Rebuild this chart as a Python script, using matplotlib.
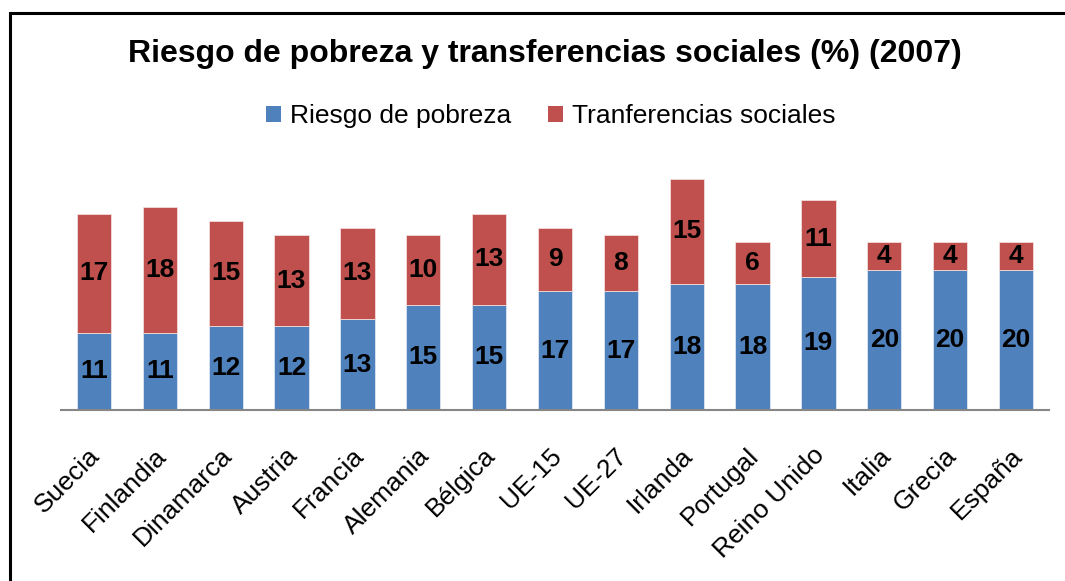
import matplotlib
matplotlib.use("Agg")
import matplotlib.pyplot as plt
from matplotlib.patches import Rectangle, Patch
from matplotlib.transforms import ScaledTranslation
import numpy as np

categories = ["Suecia", "Finlandia", "Dinamarca", "Austria", "Francia", "Alemania",
              "Bélgica", "UE-15", "UE-27", "Irlanda", "Portugal", "Reino Unido",
              "Italia", "Grecia", "España"]
riesgo = [11, 11, 12, 12, 13, 15, 15, 17, 17, 18, 18, 19, 20, 20, 20]
transferencias = [17, 18, 15, 13, 13, 10, 13, 9, 8, 15, 6, 11, 4, 4, 4]

blue = "#4F81BD"
red = "#C0504D"

plt.rcParams['font.family'] = ['Liberation Sans', 'DejaVu Sans']

W, H = 1065, 581
fig = plt.figure(figsize=(W / 100, H / 100), dpi=100)

# outer chart frame
fig.patches.append(Rectangle((10 / W, -0.2), 1.2, 1.2 - 13 / H,
                             transform=fig.transFigure, fill=False,
                             edgecolor="black", linewidth=2.2, zorder=0))

ax_left, ax_right = 61 / W, 1049 / W
ax_bottom, ax_top = 1 - 410 / H, 1 - 172 / H
ax = fig.add_axes([ax_left, ax_bottom, ax_right - ax_left, ax_top - ax_bottom])

x = np.arange(len(categories))
ax.bar(x, riesgo, width=0.52, color=blue, edgecolor="#DCE6F2", linewidth=0.6)
ax.bar(x, transferencias, width=0.52, bottom=riesgo, color=red,
       edgecolor="#F2DCDB", linewidth=0.6)

for xi, r, t in zip(x, riesgo, transferencias):
    ax.text(xi, r / 2, str(r), ha="center", va="center", fontsize=19,
            fontweight="bold", color="black")
    ax.text(xi, r + t / 2, str(t), ha="center", va="center", fontsize=19,
            fontweight="bold", color="black")

ax.set_xlim(-0.5, len(categories) - 0.5)
ax.set_ylim(0, 34)
ax.set_yticks([])
for s in ["top", "right", "left"]:
    ax.spines[s].set_visible(False)
ax.spines["bottom"].set_color("#868686")
ax.spines["bottom"].set_linewidth(1.5)
ax.set_xticks(x)
ax.set_xticklabels(categories, rotation=45, ha="right", rotation_mode="anchor",
                   fontsize=19)
ax.tick_params(axis="x", length=0, pad=24)
offset = ScaledTranslation(-6 / 100, 0, fig.dpi_scale_trans)
for lbl in ax.get_xticklabels():
    lbl.set_transform(lbl.get_transform() + offset)

fig.text(545 / W, 1 - 54 / H, "Riesgo de pobreza y transferencias sociales (%) (2007)",
         ha="center", va="center", fontsize=23, fontweight="bold")

handles = [Patch(facecolor=blue, edgecolor="none"), Patch(facecolor=red, edgecolor="none")]
fig.legend(handles, ["Riesgo de pobreza", "Tranferencias sociales"],
           loc="center", bbox_to_anchor=(551 / W, 1 - 116 / H), ncol=2,
           frameon=False, fontsize=19, handlelength=0.55, handleheight=0.55,
           handletextpad=0.35, columnspacing=1.4)

fig.savefig("out.png", dpi=100)
